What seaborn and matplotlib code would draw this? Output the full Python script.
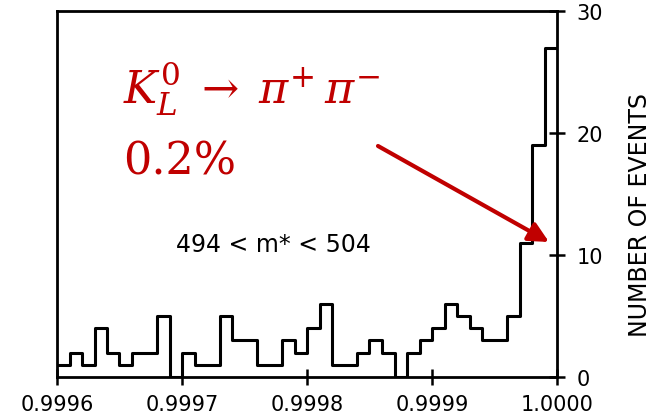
import matplotlib
matplotlib.use("Agg")
import matplotlib.pyplot as plt
import seaborn as sns
import numpy as np
import pandas as pd

# ---- data ----
counts = [1, 2, 1, 4, 2, 1, 2, 2, 5, 0,
          2, 1, 1, 5, 3, 3, 1, 1, 3, 2,
          4, 6, 1, 1, 2, 3, 2, 0, 2, 3,
          4, 6, 5, 4, 3, 3, 5, 11, 19, 27]
x_lo = 0.9996
x_hi = 1.0000
x_ticks = [0.9996, 0.9997, 0.9998, 0.9999, 1.0000]
x_tick_labels = ["0.9996", "0.9997", "0.9998", "0.9999", "1.0000"]
y_ticks = [0, 10, 20, 30]
y_tick_labels = ["0", "10", "20", "30"]
y_label = "NUMBER OF EVENTS"
cut_text = "494 < m* < 504"
decay_text = r"$K_L^0 \;\rightarrow\; \pi^{+}\,\pi^{-}$"
fraction_text = "0.2%"

RED = "#C00000"
W, H = 654, 414

sns.set_style("white")
plt.rcParams["mathtext.fontset"] = "dejavuserif"
plt.rcParams["text.color"] = "black"
plt.rcParams["xtick.color"] = "black"
plt.rcParams["ytick.color"] = "black"

fig = plt.figure(figsize=(W / 100, H / 100), dpi=100)
ax = fig.add_axes([57 / W, 1 - 378 / H, 500 / W, (378 - 12) / H])

n_bins = len(counts)
edges = np.linspace(x_lo, x_hi, n_bins + 1)
centers = (edges[:-1] + edges[1:]) / 2
df = pd.DataFrame({"cos": centers, "n": counts})

sns.histplot(data=df, x="cos", weights="n", bins=n_bins, binrange=(x_lo, x_hi),
             element="step", fill=False, color="black", linewidth=2.2, ax=ax)

ax.set_xlim(x_lo, x_hi)
ax.set_ylim(0, 30)
for s in ax.spines.values():
    s.set_visible(True)
    s.set_color("black")
    s.set_linewidth(2)

ax.set_xticks(x_ticks)
ax.set_xticklabels(x_tick_labels, fontsize=15, color="black")
ax.set_yticks(y_ticks)
ax.set_yticklabels(y_tick_labels, fontsize=15, color="black")
ax.yaxis.tick_right()
ax.tick_params(axis="x", direction="inout", length=12, width=1.8, pad=6, bottom=True,
               colors="black")
ax.tick_params(axis="y", direction="inout", length=12, width=1.8, pad=8, right=True, left=False,
               colors="black")
ax.set_xlabel("")
ax.set_ylabel("")
fig.text(640 / W, 1 - 215 / H, y_label, fontsize=17, rotation=90, color="black",
         ha="center", va="center")

# annotations
fig.text(123 / W, 1 - 105 / H, decay_text, color=RED, fontsize=32, va="baseline", ha="left")
fig.text(123 / W, 1 - 175 / H, fraction_text, color=RED, fontsize=32, va="baseline", ha="left",
         family="DejaVu Serif")
fig.text(273 / W, 1 - 245 / H, cut_text, color="black", fontsize=17, va="center", ha="center")

ax.annotate("", xy=(549 / W, 1 - 243 / H), xytext=(378 / W, 1 - 147 / H),
            xycoords="figure fraction", textcoords="figure fraction",
            arrowprops=dict(arrowstyle="-|>", color=RED, lw=3, mutation_scale=30,
                            shrinkA=0, shrinkB=0))

fig.savefig("out.png", dpi=100)
